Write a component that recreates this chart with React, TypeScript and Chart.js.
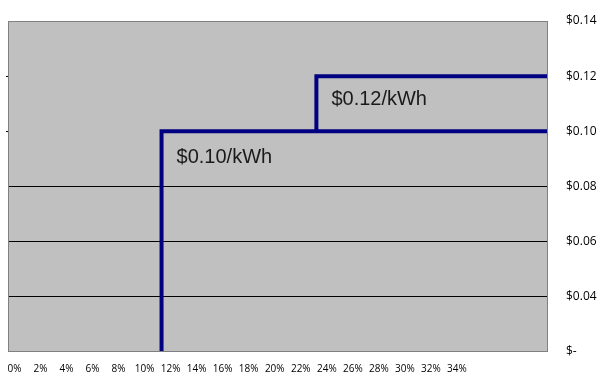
import React, { useEffect, useRef } from "react";
import { Chart, registerables } from "chart.js";

Chart.register(...registerables);

// Axis ticks (percent) and right-axis price ticks
const xTickValues = [0, 2, 4, 6, 8, 10, 12, 14, 16, 18, 20, 22, 24, 26, 28, 30, 32, 34];
const yTickValues = [0.02, 0.04, 0.06, 0.08, 0.1, 0.12, 0.14];
const yTickLabels = ["$-", "$0.04", "$0.06", "$0.08", "$0.10", "$0.12", "$0.14"];
const gridValues = [0.04, 0.06, 0.08];
const leftTickValues = [0.1, 0.12];

// Rate tiers (x in %, y in $/kWh)
const tier1X = [11.3, 11.3, 41];
const tier1Y = [0, 0.1, 0.1];
const tier2X = [23.2, 23.2, 41];
const tier2Y = [0.1, 0.12, 0.12];

const rateLabels = ["$0.10/kWh", "$0.12/kWh"];
const rateLabelX = [11.3, 23.2];
const rateLabelY = [0.0905, 0.1115];

const near = (a: number, b: number) => Math.abs(a - b) < 1e-6;

export default function App() {
  const ref = useRef<HTMLCanvasElement | null>(null);

  useEffect(() => {
    if (!ref.current) return;

    const plotPlugin = {
      id: "plotBg",
      beforeDraw(chart: any) {
        const { ctx, chartArea: a } = chart;
        ctx.save();
        ctx.fillStyle = "#c0c0c0";
        ctx.fillRect(a.left, a.top, a.right - a.left, a.bottom - a.top);
        ctx.restore();
      },
      afterDatasetsDraw(chart: any) {
        const { ctx, chartArea: a } = chart;
        ctx.save();
        ctx.strokeStyle = "#808080";
        ctx.lineWidth = 1;
        ctx.strokeRect(a.left + 0.5, a.top + 0.5, a.right - a.left - 1, a.bottom - a.top - 1);
        const xs = chart.scales.x;
        const ys = chart.scales.y;
        ctx.fillStyle = "#1a1a1a";
        ctx.font = '20px "Liberation Sans", Arial, sans-serif';
        ctx.textAlign = "left";
        ctx.textBaseline = "middle";
        rateLabels.forEach((t, i) => {
          ctx.fillText(t, xs.getPixelForValue(rateLabelX[i]) + 15, ys.getPixelForValue(rateLabelY[i]));
        });
        ctx.restore();
      },
    };

    const chart = new Chart(ref.current, {
      type: "line",
      data: {
        datasets: [
          {
            data: tier1X.map((x, i) => ({ x, y: tier1Y[i] })),
            borderColor: "#000080",
            borderWidth: 4,
            pointRadius: 0,
            tension: 0,
            clip: 0,
            borderCapStyle: "butt",
            borderJoinStyle: "miter",
          },
          {
            data: tier2X.map((x, i) => ({ x, y: tier2Y[i] })),
            borderColor: "#000080",
            borderWidth: 4,
            pointRadius: 0,
            tension: 0,
            clip: 0,
            borderCapStyle: "butt",
            borderJoinStyle: "miter",
          },
        ],
      },
      options: {
        animation: false,
        responsive: false,
        maintainAspectRatio: false,
        layout: { padding: { left: 0, top: 21, right: 0, bottom: 0 } },
        plugins: { legend: { display: false }, tooltip: { enabled: false } },
        scales: {
          x: {
            type: "linear",
            min: -0.5,
            max: 41,
            afterBuildTicks: (s: any) => {
              s.ticks = xTickValues.map((v) => ({ value: v }));
            },
            afterFit: (s: any) => {
              s.height = 27;
              s.paddingLeft = 0;
              s.paddingRight = 0;
            },
            grid: { display: false, drawTicks: false },
            border: { display: false },
            ticks: {
              padding: 11,
              maxRotation: 0,
              autoSkip: false,
              color: "#000",
              font: { family: '"Open Sans", sans-serif', size: 10 },
              callback: (v: any) => `${v}%`,
            },
          },
          y: {
            type: "linear",
            position: "right",
            min: 0.02,
            max: 0.14,
            afterBuildTicks: (s: any) => {
              s.ticks = yTickValues.map((v) => ({ value: v }));
            },
            afterFit: (s: any) => {
              s.width = 60;
              s.paddingTop = 0;
              s.paddingBottom = 0;
            },
            grid: {
              drawTicks: false,
              lineWidth: 1,
              color: (c: any) =>
                c.tick && gridValues.some((g) => near(g, c.tick.value)) ? "#000" : "rgba(0,0,0,0)",
            },
            border: { display: false },
            ticks: {
              padding: 18,
              crossAlign: "near",
              autoSkip: false,
              color: "#000",
              font: { family: '"Open Sans", sans-serif', size: 12 },
              callback: (v: any) => {
                const i = yTickValues.findIndex((t) => near(t, Number(v)));
                return i >= 0 ? yTickLabels[i] : "";
              },
            },
          },
          yl: {
            type: "linear",
            position: "left",
            min: 0.02,
            max: 0.14,
            afterBuildTicks: (s: any) => {
              s.ticks = yTickValues.map((v) => ({ value: v }));
            },
            afterFit: (s: any) => {
              s.width = 8;
              s.paddingTop = 0;
              s.paddingBottom = 0;
            },
            grid: {
              drawOnChartArea: false,
              drawTicks: true,
              tickLength: 2,
              color: (c: any) =>
                c.tick && leftTickValues.some((g) => near(g, c.tick.value)) ? "#000" : "rgba(0,0,0,0)",
            },
            border: { display: false },
            ticks: { display: false },
          },
        },
      },
      plugins: [plotPlugin],
    } as any);

    return () => chart.destroy();
  }, []);

  return (
    <div style={{ position: "fixed", left: 0, top: 0, width: 608, height: 379, background: "#fff" }}>
      <canvas ref={ref} width={608} height={379} style={{ display: "block", width: 608, height: 379 }} />
    </div>
  );
}
